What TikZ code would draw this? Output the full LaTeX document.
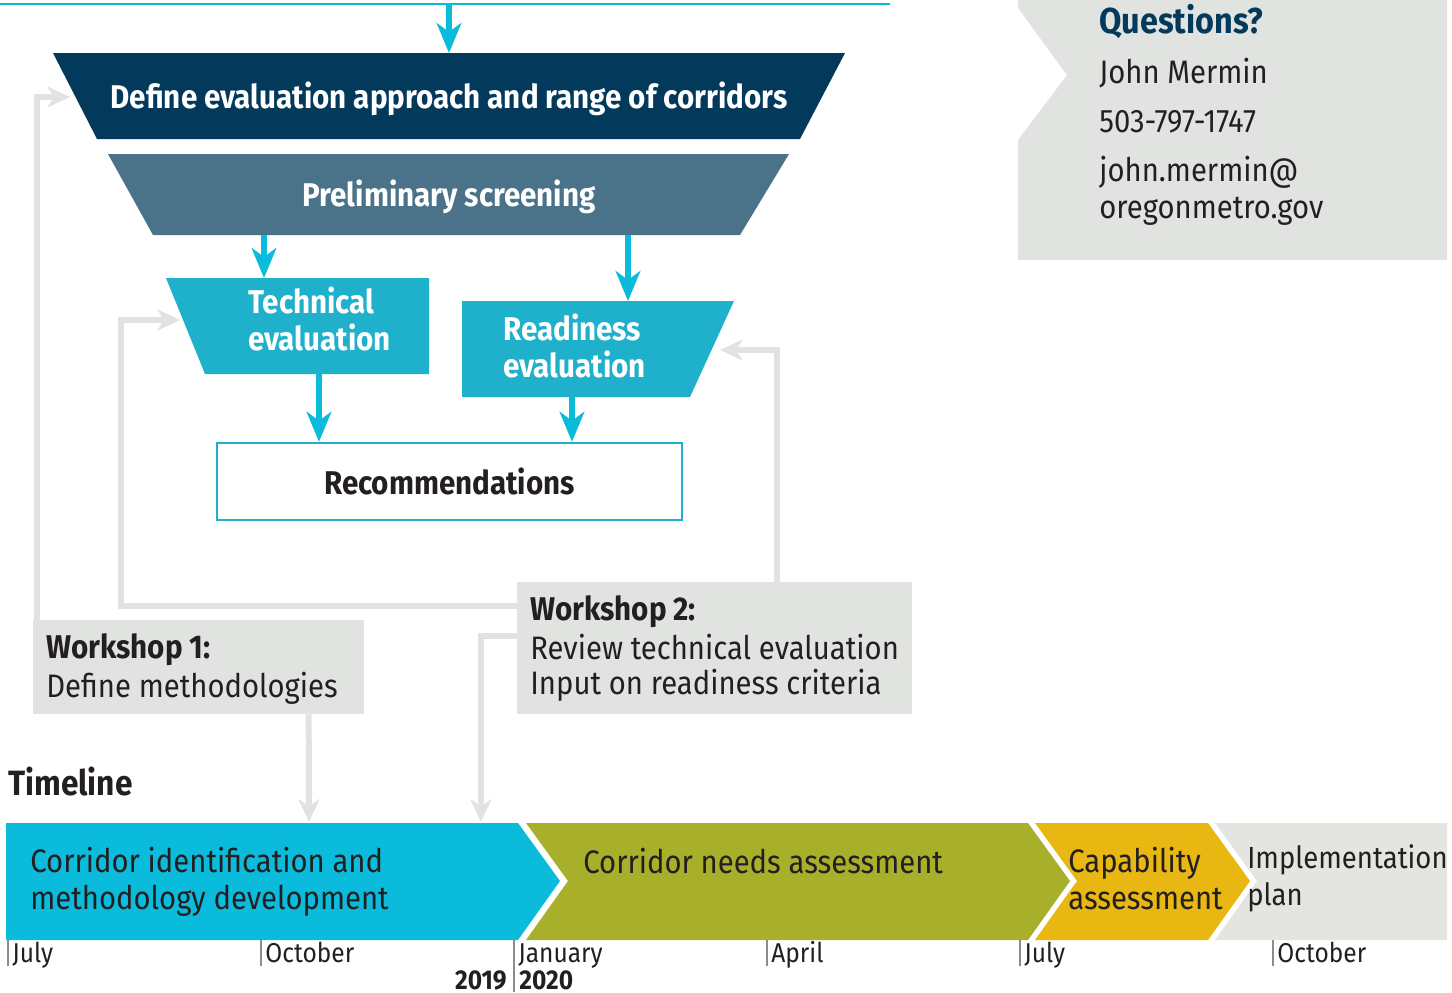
\documentclass[tikz,border=0pt]{standalone}
\usepackage{fontspec}
\setmainfont{Fira Sans}[FakeStretch=0.9]
\usetikzlibrary{arrows.meta,calc}

\definecolor{navy}{HTML}{033A5C}
\definecolor{steel}{HTML}{4A7389}
\definecolor{teal}{HTML}{1FB1CC}
\definecolor{arrowcyan}{HTML}{0ABBDC}
\definecolor{boxgray}{HTML}{E1E3E0}
\definecolor{linegray}{HTML}{E2E2E2}
\definecolor{olive}{HTML}{A8AF2B}
\definecolor{gold}{HTML}{E8B711}
\definecolor{plangray}{HTML}{E4E4E0}
\definecolor{ink}{HTML}{231F20}
\definecolor{tickgray}{HTML}{8C8C8C}

\newcommand\bodyfont{\fontsize{18.5}{21}\selectfont}
\newcommand\headfont{\fontsize{18.7}{21}\selectfont\bfseries}
\newcommand\tickfont{\fontsize{15.5}{17}\selectfont}

\begin{document}
\begin{tikzpicture}[x=0.02cm,y=-0.02cm,
    flow/.style={draw=arrowcyan,line width=3.6pt,-{Stealth[length=17pt,width=14pt,inset=5pt]}},
    back/.style={draw=linegray,line width=3.4pt,-{Stealth[length=13pt,width=12pt,inset=4pt]}},
    txt/.style={anchor=base west,inner sep=0pt,text=ink,font=\bodyfont},
    head/.style={anchor=base,inner sep=0pt,text=white,font=\headfont},
    wbox/.style={fill=boxgray,inner sep=0pt},
    tick/.style={draw=tickgray,line width=1.2pt}]
  \useasboundingbox (0,0) rectangle (1452,992);

  % funnel
  \draw[arrowcyan,line width=1.6pt] (0,4) -- (890,4);
  \fill[navy] (53,53) -- (845,53) -- (800,139) -- (97,139) -- cycle;
  \fill[steel] (108,154) -- (789,154) -- (740,235) -- (153,235) -- cycle;
  \fill[teal] (166,278) -- (429,278) -- (429,374) -- (205,374) -- cycle;
  \fill[teal] (462,301) -- (734,301) -- (690,397) -- (462,397) -- cycle;
  \node[head] (define) at (449,108) {Define evaluation approach and range of corridors};
  \node[head] (prelim) at (449,206) {Preliminary screening};
  % multi-line nodes sit on the baseline of their last line
  \node[head,anchor=base west,align=left] (tech) at (248,350) {Technical\\evaluation};
  \node[head,anchor=base west,align=left] (ready) at (503,377) {Readiness\\evaluation};
  \node[draw=teal,line width=1.4pt,minimum width=9.3cm,minimum height=1.54cm,
    font=\headfont,text=ink] (rec) at (449.5,481.5) {Recommendations};

  \coordinate (top) at (449,4);
  \coordinate (define-in) at (449,53);
  \coordinate (prelim-l) at (264,235);
  \coordinate (prelim-r) at (628,235);
  \coordinate (tech-in) at (264,278);
  \coordinate (ready-in) at (628,301);
  \coordinate (tech-out) at (319,374);
  \coordinate (ready-out) at (572,397);
  \begin{scope}[flow]
    \draw (top) to (define-in);
    \draw (prelim-l) to (tech-in);
    \draw (prelim-r) to (ready-in);
    \draw (tech-out) to (tech-out |- rec.north);
    \draw (ready-out) to (ready-out |- rec.north);
  \end{scope}

  % contact
  \fill[boxgray] (1018,0) -- (1447,0) -- (1447,260) -- (1018,260) -- (1018,140)
    -- (1067,75) -- (1018,8) -- cycle;
  \node[txt,font=\fontsize{20.5}{22}\selectfont\bfseries,text=navy] (ask) at (1099,33) {Questions?};
  \node[txt] (name) at (1099,83) {John Mermin};
  \node[txt] (phone) at (1099,132) {503-797-1747};
  \node[txt,align=left] (mail) at (1099,218) {john.mermin@\\oregonmetro.gov};

  % workshops
  \node[wbox,minimum width=6.62cm,minimum height=1.88cm] (w1) at (198.5,667) {};
  \node[wbox,minimum width=7.9cm,minimum height=2.64cm] (w2) at (714.5,648) {};
  \node[txt,font=\headfont] at (46,658) {Workshop 1:};
  \node[txt] at (46,697) {Define methodologies};
  \node[txt,font=\headfont] at (530,620) {Workshop 2:};
  \node[txt] at (530,659) {Review technical evaluation};
  \node[txt] at (530,694) {Input on readiness criteria};

  \coordinate (define-l) at (70,97);
  \coordinate (tech-l) at (180,320);
  \coordinate (ready-r) at (720,350);
  \coordinate (phase1-a) at (309,822);
  \coordinate (phase1-b) at (481,822);
  \begin{scope}[back]
    \draw ($(w1.north west)+(4,0)$) |- (define-l);
    \draw ($(w2.north west)+(0,24)$) -| (121,320) -- (tech-l);
    \draw ($(w2.north west)+(260,0)$) |- (ready-r);
    \draw ($(w1.south west)+(276,0)$) -- (phase1-a);
    \draw ($(w2.north west)+(0,54)$) -| (phase1-b);
  \end{scope}

  % timeline
  \node[txt,font=\fontsize{20}{22}\selectfont\bfseries] (timeline) at (8,795) {Timeline};
  \fill[arrowcyan] (6,823) -- (518,823) -- (560,881) -- (518,940) -- (6,940) -- cycle;
  \fill[olive] (526,823) -- (1028,823) -- (1070,881) -- (1028,940) -- (526,940) -- (568,881) -- cycle;
  \fill[gold] (1035,823) -- (1208,823) -- (1250,881) -- (1208,940) -- (1035,940) -- (1077,881) -- cycle;
  \fill[plangray] (1215,823) -- (1447,823) -- (1447,940) -- (1215,940) -- (1257,881) -- cycle;
  \node[txt,align=left] (phase1) at (30,909) {Corridor identification and\\methodology development};
  \node[txt] (phase2) at (583,873) {Corridor needs assessment};
  \node[txt,align=left] (phase3) at (1068,909) {Capability\\assessment};
  \node[txt,align=left,font=\fontsize{17.4}{21}\selectfont] (phase4) at (1247,905) {Implementation\\plan};

  \foreach \x/\m in {8/July,261/October,514/January,767/April,1020/July,1273/October}{
    \draw[tick] (\x,940) -- (\x,966);
    \node[txt,font=\tickfont] at (\x+4,962) {\m};
  }
  \draw[tick] (514,966) -- (514,992);
  \node[txt,anchor=base east,font=\tickfont\bfseries] at (507,989) {2019};
  \node[txt,font=\tickfont\bfseries] at (519,989) {2020};
\end{tikzpicture}
\end{document}
